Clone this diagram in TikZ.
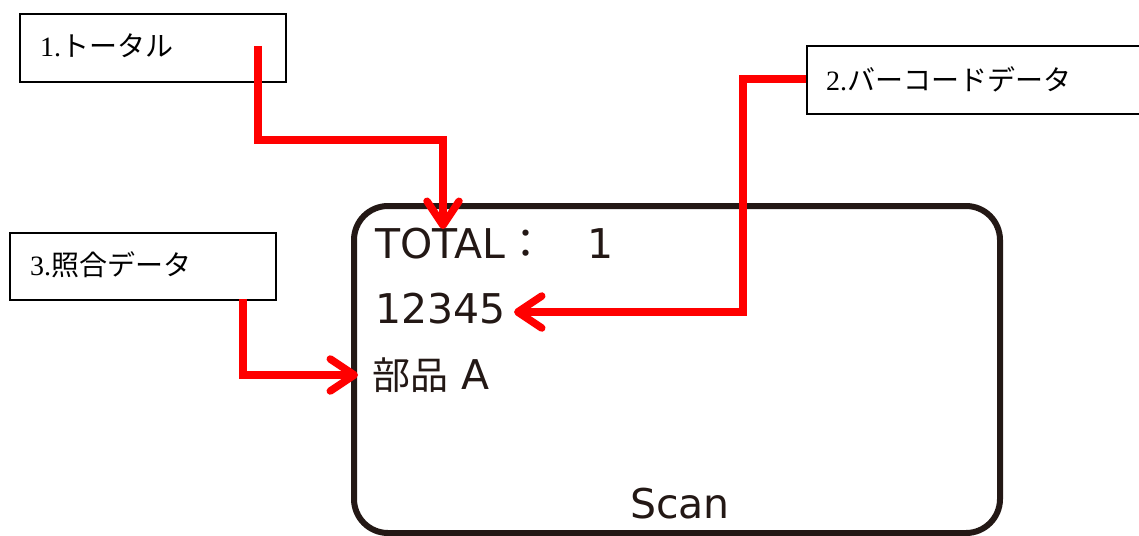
\documentclass[tikz,border=0pt]{standalone}
\usepackage{fontspec}
\setmainfont{Liberation Serif}
\newfontfamily\jpfont{Noto Sans CJK JP}
\newfontfamily\scrfont{DejaVu Sans}
\usetikzlibrary{arrows.meta}
\definecolor{scrink}{HTML}{231815}
\definecolor{callred}{HTML}{FF0000}
\tikzset{
  labelbox/.style={draw=black, line width=2pt, anchor=north west, inner sep=0pt},
  labeltext/.style={anchor=west, inner sep=0pt, font=\fontsize{28}{32}\selectfont},
  scrtext/.style={anchor=base west, inner sep=0pt, text=scrink, font=\fontsize{41}{48}\scrfont},
  callout/.style={draw=callred, line width=7.5pt, line join=miter,
    -{Straight Barb[length=24pt, width=32pt, round]}},
}
\begin{document}
\begin{tikzpicture}[x=1pt,y=-1pt]
\useasboundingbox (0,0) rectangle (1139,535);
% label boxes
\node[labelbox, minimum width=266pt, minimum height=68pt] (b1) at (19,13) {};
\node[labeltext] (t1) at (40,46) {1.{\jpfont トータル}};
\node[labelbox, minimum width=340pt, minimum height=68pt] (b2) at (806,45) {};
\node[labeltext] (t2) at (826,79) {2.{\jpfont バーコードデータ}};
\node[labelbox, minimum width=266pt, minimum height=67pt] (b3) at (9,232) {};
\node[labeltext] (t3) at (30,265) {3.{\jpfont 照合データ}};
% screen
\node[draw=scrink, line width=6pt, rounded corners=34pt, anchor=north west,
      minimum width=646pt, minimum height=327pt, inner sep=0pt] (screen) at (351,203) {};
\node[scrtext] (total) at (375,258) {TOTAL{\jpfont ：　}1};
\node[scrtext] (barcode) at (375,323) {12345};
\node[scrtext] (part) at (372,389) {{\jpfont\fontsize{38}{44}\selectfont 部品} A};
\node[scrtext, anchor=base] (scan) at (680,518) {Scan};
% connector points
\coordinate (s1) at (258,46);
\coordinate (k1) at (258,140);
\coordinate (k2) at (443,140);
\coordinate (tip1) at (443,229);
\coordinate (k3) at (743,79);
\coordinate (k4) at (743,312);
\coordinate (tip2) at (514,312);
\coordinate (s3) at (243,299);
\coordinate (k5) at (243,375);
\coordinate (tip3) at (358,375);
\draw[callout] (s1) -- (k1) -- (k2) -- (tip1);
\draw[callout] (b2.west |- k3) -- (k3) -- (k4) -- (tip2);
\draw[callout] (s3) -- (k5) -- (tip3);
\end{tikzpicture}
\end{document}
